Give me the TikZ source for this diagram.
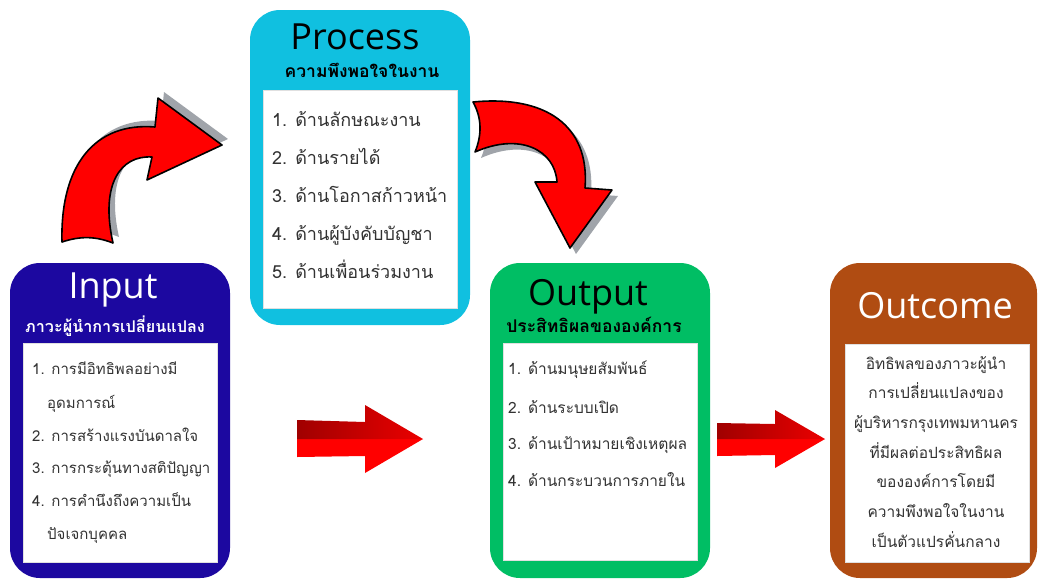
\documentclass[tikz,border=0pt]{standalone}
\usepackage{fontspec}
\setmainfont[Script=Thai]{Loma}
\newfontfamily\titlefont{Open Sans}
\usetikzlibrary{positioning}

\definecolor{inputblue}{RGB}{28,8,160}
\definecolor{processcyan}{RGB}{16,192,224}
\definecolor{outputgreen}{RGB}{0,190,100}
\definecolor{outcomebrown}{RGB}{176,76,18}
\definecolor{itemgray}{RGB}{50,50,50}
\definecolor{shadowgray}{RGB}{160,164,170}
\definecolor{darkarrow}{RGB}{160,0,0}

\tikzset{
	box/.style={rounded corners=30pt, minimum width=220pt, minimum height=315pt, inner sep=0pt},
	body/.style={fill=white, draw=white!88!black, line width=0.6pt, minimum width=194pt, inner sep=0pt},
	boxtitle/.style={font=\titlefont\fontsize{36}{36}\selectfont, anchor=base, inner sep=0pt},
	subtitle/.style={font=\bfseries\fontsize{#1}{#1}\selectfont, anchor=base, inner sep=0pt},
	subtitle/.default=17.5,
	item/.style={font=\fontsize{#1}{#1}\selectfont, text=itemgray, anchor=base west, inner sep=0pt},
	item/.default=17,
	bigarrow/.style={fill=red, draw=black, line width=1.6pt, line join=round},
}

% curved arrows, drawn twice (shadow + arrow)
\newcommand\uparrowpath{(62,242) .. controls (60,165) and (95,122) .. (155,127) -- (158,98) -- (222,145) -- (147,180) -- (152,157) .. controls (120,155) and (100,185) .. (113,243) .. controls (95,236) and (80,236) .. (62,242) -- cycle}
\newcommand\downarrowpath{(473,102) .. controls (545,95) and (590,125) .. (585,188) -- (612,190) -- (570,248) -- (535,182) -- (557,182) .. controls (555,150) and (520,132) .. (475,152) .. controls (482,135) and (482,118) .. (473,102) -- cycle}

\begin{document}
\begin{tikzpicture}[x=1pt, y=-1pt]
	\useasboundingbox (0,0) rectangle (1040,579);

	% boxes
	\node[box, fill=inputblue] (input) at (120,420.5) {};
	\node[body, minimum height=219pt] (inputbody) at (120,452.5) {};
	\node[box, fill=processcyan] (process) at (360,167.5) {};
	\node[body, minimum height=218pt] (processbody) at (360,199) {};
	\node[box, fill=outputgreen] (output) at (600,420.5) {};
	\node[body, minimum height=217pt] (outputbody) at (600,451.5) {};
	\node[box, fill=outcomebrown, minimum width=207pt] (outcome) at (933.5,420.5) {};
	\node[body, minimum width=184pt, minimum height=218pt] (outcomebody) at (937,453) {};

	% titles
	\node[boxtitle, text=white] (inputtitle) at (113,298.5) {Input};
	\node[subtitle=16.2, text=white] (inputsub) at (115,332) {ภาวะผู้นำการเปลี่ยนแปลง};
	\node[boxtitle, text=black] (processtitle) at (355,49) {Process};
	\node[subtitle, text=black] (processsub) at (362,77) {ความพึงพอใจในงาน};
	\node[boxtitle, text=black] (outputtitle) at (588,305) {Output};
	\node[subtitle, text=black] (outputsub) at (594,332) {ประสิทธิผลขององค์การ};
	\node[boxtitle, text=white] (outcometitle) at (935,318) {Outcome};

	% lists
	\foreach \t/\x/\y [count=\i] in {{1. การมีอิทธิพลอย่างมี}/32/374, {อุดมการณ์}/47/408, {2. การสร้างแรงบันดาลใจ}/32/441, {3. การกระตุ้นทางสติปัญญา}/32/473, {4. การคำนึงถึงความเป็น}/32/506, {ปัจเจกบุคคล}/47/539}
		\node[item=15] (in\i) at (\x,\y) {\t};
	\foreach \t [count=\i] in {ด้านลักษณะงาน, ด้านรายได้, ด้านโอกาสก้าวหน้า, ด้านผู้บังคับบัญชา, ด้านเพื่อนร่วมงาน}
		\node[item=18] (proc\i) at (272,88+38*\i) {\i. \t};
	\foreach \t/\y [count=\i] in {ด้านมนุษยสัมพันธ์/374, ด้านระบบเปิด/413, ด้านเป้าหมายเชิงเหตุผล/449, ด้านกระบวนการภายใน/486}
		\node[item=15.5] (out\i) at (508,\y) {\i. \t};
	\foreach \t [count=\i] in {อิทธิพลของภาวะผู้นำ, การเปลี่ยนแปลงของ, ผู้บริหารกรุงเทพมหานคร, ที่มีผลต่อประสิทธิผล, ขององค์การโดยมี, ความพึงพอใจในงาน, เป็นตัวแปรคั่นกลาง}
		\node[item=15.5, anchor=base] (oc\i) at (936,339.3+29.7*\i) {\t};

	% curved arrows
	\fill[shadowgray, shift={(6,-6)}] \uparrowpath;
	\draw[bigarrow] \uparrowpath;
	\fill[shadowgray, shift={(6,6)}] \downarrowpath;
	\draw[bigarrow] \downarrowpath;

	% straight arrows
	\fill[red] (297,439) -- (423,439) -- (365,473) -- (365,456) -- (297,457) -- cycle;
	\shade[left color=darkarrow, right color=red!92!black] (297,420) -- (365,422) -- (365,405) -- (423,439) -- (297,439) -- cycle;
	\fill[red] (717,439) -- (825,439) -- (775,468) -- (775,455) -- (717,456) -- cycle;
	\shade[left color=darkarrow, right color=red!92!black] (717,423) -- (775,424) -- (775,410) -- (825,439) -- (717,439) -- cycle;
\end{tikzpicture}
\end{document}
